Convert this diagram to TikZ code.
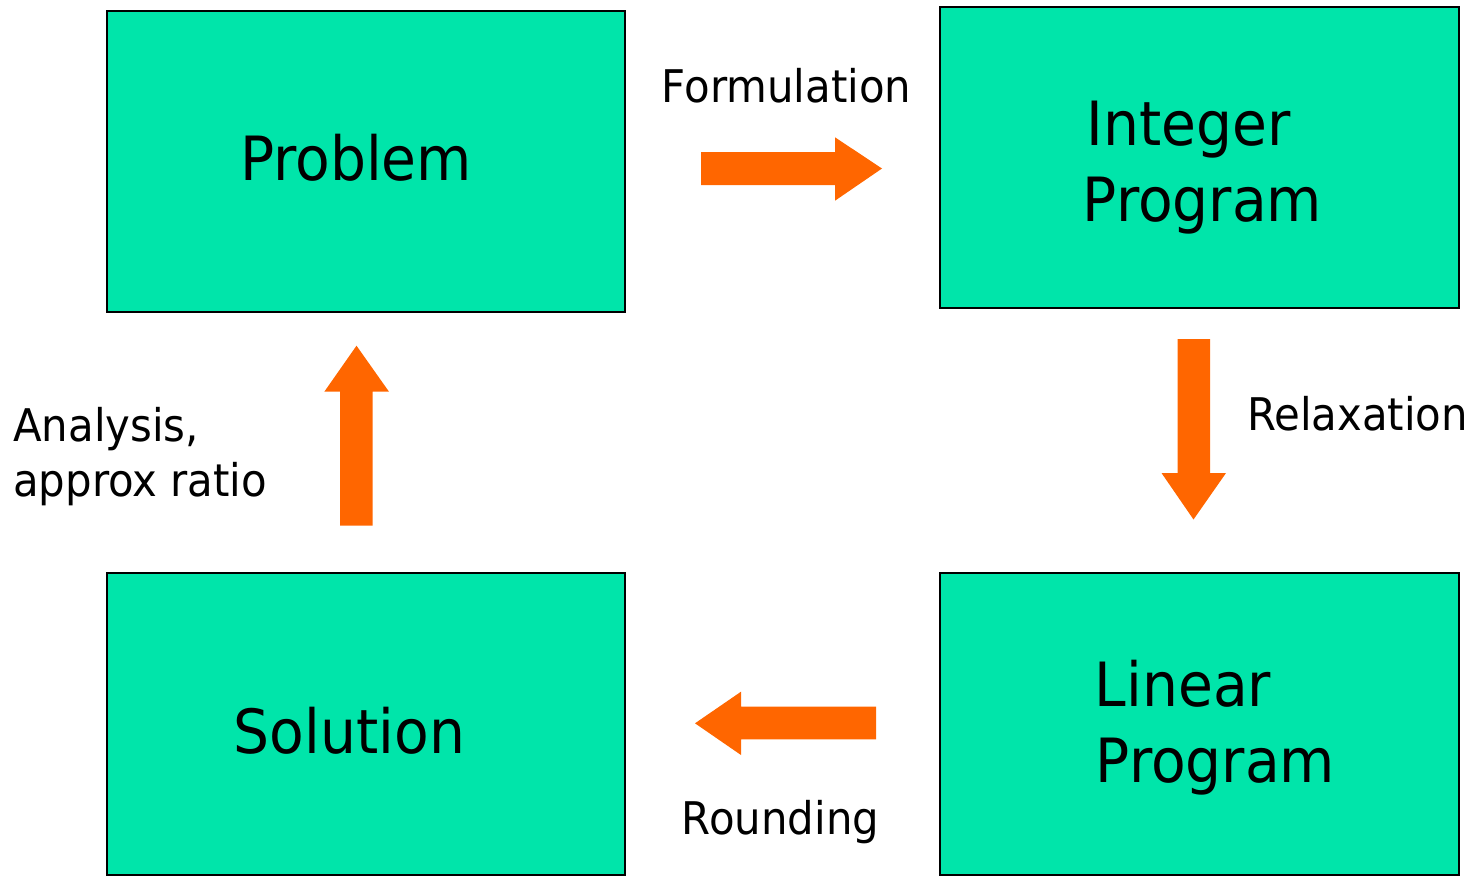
\documentclass[tikz,border=0pt]{standalone}
\usepackage{fontspec}
\setmainfont{DejaVu Sans}[FakeStretch=0.93]
\definecolor{boxgreen}{HTML}{00E5AA}
\definecolor{arroworange}{HTML}{FF6600}
\tikzset{
  stepbox/.style={draw=black, line width=1.5pt, fill=boxgreen, inner sep=0pt, outer sep=0pt},
  bigtext/.style={font=\fontsize{61}{75}\selectfont, inner sep=0pt, anchor=base},
  smalltext/.style={font=\fontsize{45}{55}\selectfont, inner sep=0pt},
  blockarrow/.style={fill=arroworange, draw=none}
}
\begin{document}
\begin{tikzpicture}[x=1pt, y=-1pt]
\useasboundingbox (0,0) rectangle (1472,876);
% boxes
\node[stepbox, minimum width=518pt, minimum height=301pt] (problem) at (366,161.5) {};
\node[stepbox, minimum width=519pt, minimum height=301pt] (ip) at (1199.5,157.5) {};
\node[stepbox, minimum width=518pt, minimum height=302pt] (solution) at (366,724) {};
\node[stepbox, minimum width=519pt, minimum height=302pt] (lp) at (1199.5,724) {};
% box texts
\node[bigtext] (problemtxt) at (356,180.6) {Problem};
\node[bigtext] (iptxta) at (1189,145) {Integer};
\node[bigtext] (iptxtb) at (1202.5,221.7) {Program};
\node[bigtext] (soltxt) at (349.5,753.3) {Solution};
\node[bigtext] (lptxta) at (1183,706.7) {Linear};
\node[bigtext] (lptxtb) at (1215.5,782.7) {Program};
% labels
\node[smalltext, anchor=base] (formlbl) at (786.5,102.7) {Formulation};
\node[smalltext, anchor=base] (relaxlbl) at (1357.5,430) {Relaxation};
\node[smalltext, anchor=base] (roundlbl) at (780.5,834.3) {Rounding};
\node[smalltext, anchor=base west] (analbl) at (13,441.7) {Analysis,};
\node[smalltext, anchor=base west] (ratiolbl) at (13,496.7) {approx ratio};
% block arrows
\fill[blockarrow] (701,152) -- (835,152) -- (835,137.3) -- (882,168.5) -- (835,200.7) -- (835,185) -- (701,185) -- cycle;
\fill[blockarrow] (1177.5,339) -- (1210,339) -- (1210,473) -- (1226,473) -- (1193.5,519.5) -- (1161.5,473) -- (1177.5,473) -- cycle;
\fill[blockarrow] (876,706.7) -- (741,706.7) -- (741,691.7) -- (695,723.3) -- (741,755) -- (741,739.3) -- (876,739.3) -- cycle;
\fill[blockarrow] (340,525.7) -- (340,391.7) -- (324.3,391.7) -- (356.5,345.7) -- (389,391.7) -- (372.7,391.7) -- (372.7,525.7) -- cycle;
\end{tikzpicture}
\end{document}
